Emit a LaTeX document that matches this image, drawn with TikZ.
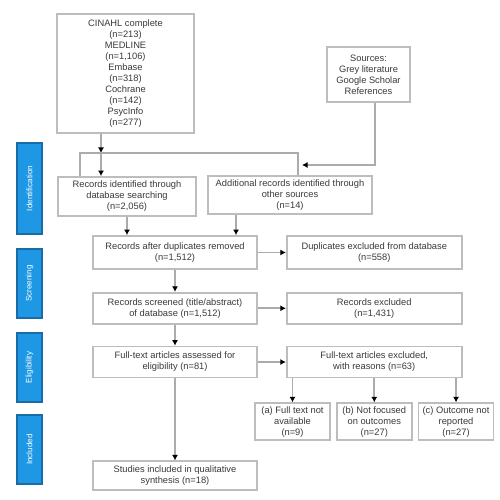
\documentclass[tikz,border=0pt]{standalone}
\usepackage{fontspec}
\setmainfont{Liberation Sans}
\usepackage{xcolor}
\usetikzlibrary{arrows.meta,positioning}
\definecolor{Ink}{HTML}{3A3A3A}
\definecolor{Frame}{HTML}{BDBDBD}
\definecolor{Wire}{HTML}{ABABAB}
\definecolor{Stage}{HTML}{1E98E4}
\definecolor{StageEdge}{HTML}{1A6CA6}
\tikzset{
  box/.style={draw=Frame,fill=white,line width=1pt,align=center,font=\fontsize{5.3pt}{6.3pt}\selectfont,text=Ink,inner sep=1pt},
  stage/.style={draw=StageEdge,fill=Stage,line width=0.8pt,rotate=90,minimum height=0.5cm,font=\fontsize{4.6pt}{5pt}\selectfont,text=white,inner sep=0pt},
  arr/.style={-{Latex[length=1.1mm,width=1.2mm,color=black]},draw=Wire,line width=0.9pt},
  wire/.style={draw=Wire,line width=0.9pt}
}

\begin{document}
\begin{tikzpicture}[node distance=0.44cm and 0.56cm]
  \useasboundingbox (0,0) rectangle (10,-10);
  % stages
  \node[stage,minimum width=1.82cm] (sid) at (0.59,-3.77) {Identification};
  \node[stage,minimum width=1.38cm] (sscr) at (0.59,-5.67) {Screening};
  \node[stage,minimum width=1.38cm] (selg) at (0.59,-7.35) {Eligibility};
  \node[stage,minimum width=1.38cm] (sinc) at (0.59,-8.99) {Included};
  % identification
  \node[box,minimum width=2.74cm,minimum height=2.38cm] (db) at (2.51,-1.47)
    {CINAHL complete\\(n=213)\\MEDLINE\\(n=1,106)\\Embase\\(n=318)\\Cochrane\\(n=142)\\PsycInfo\\(n=277)};
  \node[box,minimum width=1.66cm,minimum height=1.1cm] (other) at (7.37,-1.49)
    {Sources:\\Grey literature\\Google Scholar\\References};
  \node[box,minimum width=2.76cm,minimum height=0.78cm] (idl) at (2.54,-3.93)
    {Records identified through\\database searching\\(n=2,056)};
  \node[box,minimum width=3.28cm,minimum height=0.76cm] (idr) at (5.80,-3.90)
    {Additional records identified through\\other sources\\(n=14)};
  % screening
  \node[box,minimum width=3.28cm,minimum height=0.66cm] (dedup) at (3.5,-5.05)
    {Records after duplicates removed\\(n=1,512)};
  \node[box,minimum width=3.5cm,minimum height=0.66cm,right=of dedup] (dupex)
    {Duplicates excluded from database\\(n=558)};
  \node[box,minimum width=3.28cm,minimum height=0.62cm,below=of dedup] (screened)
    {Records screened (title/abstract)\\of database (n=1,512)};
  \node[box,minimum width=3.5cm,minimum height=0.62cm,right=of screened] (recex)
    {Records excluded\\(n=1,431)};
  % eligibility
  \node[box,minimum width=3.28cm,minimum height=0.62cm,below=0.42cm of screened] (fulltext)
    {Full-text articles assessed for\\eligibility (n=81)};
  \node[box,minimum width=3.5cm,minimum height=0.62cm,right=of fulltext] (ftex)
    {Full-text articles excluded,\\with reasons (n=63)};
  \node[box,minimum width=1.5cm,minimum height=0.74cm,below=0.48cm of ftex] (subb)
    {(b) Not focused\\on outcomes\\(n=27)};
  \node[box,minimum width=1.5cm,minimum height=0.74cm,left=0.1cm of subb] (suba)
    {(a) Full text not\\available\\(n=9)};
  \node[box,minimum width=1.5cm,minimum height=0.74cm,right=0.1cm of subb] (subc)
    {(c) Outcome not\\reported\\(n=27)};
  % included
  \node[box,minimum width=3.28cm,minimum height=0.58cm,below=1.64cm of fulltext] (incl)
    {Studies included in qualitative\\synthesis (n=18)};
  % connectors
  \coordinate (jdb) at (2.02,-3.06);
  \coordinate (jl) at (1.6,-3.06);
  \coordinate (jr) at (5.96,-3.06);
  \coordinate (joth) at (6.04,-3.30);
  \draw[arr] (db.south -| jdb) -- (jdb);
  \draw[arr] (jdb) -- (jdb |- idl.north);
  \draw[wire] (jl |- idl.north) -- (jl) -- (jr) -- (jr |- idr.north);
  \draw[arr] ([xshift=0.13cm]other.south) |- (joth);
  \draw[arr] (idl.south) -- (idl.south |- dedup.north);
  \draw[arr] (4.72,0 |- idr.south) -- (4.72,0 |- dedup.north);
  \draw[arr] (dedup) -- (dupex);
  \draw[arr] (dedup) -- (screened);
  \draw[arr] (screened) -- (recex);
  \draw[arr] (screened) -- (fulltext);
  \draw[arr] (fulltext) -- (ftex);
  \draw[arr] (fulltext) -- (incl);
  \draw[arr] (suba.north |- ftex.south) -- (suba);
  \draw[arr] (subb.north |- ftex.south) -- (subb);
  \draw[arr] (subc.north |- ftex.south) -- (subc);
\end{tikzpicture}
\end{document}
